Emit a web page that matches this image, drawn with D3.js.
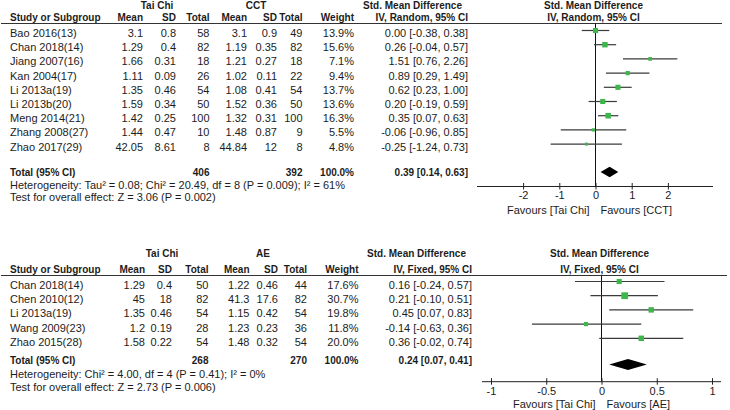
<!DOCTYPE html>
<html><head><meta charset="utf-8">
<script src="https://cdn.jsdelivr.net/npm/d3@7"></script>
<style>
body{margin:0;background:#fff}
svg{display:block}
text{font-family:"Liberation Sans",Arial,sans-serif;fill:#1c1c1c}
</style>
</head><body>
<svg id="c" width="730" height="410"></svg>
<script>
// ---------- Panel 1: Tai Chi vs CCT (random effects) ----------
const studies1 = ["Bao 2016(13)","Chan 2018(14)","Jiang 2007(16)","Kan 2004(17)","Li 2013a(19)","Li 2013b(20)","Meng 2014(21)","Zhang 2008(27)","Zhao 2017(29)"];
const tcMean1 = ["3.1","1.29","1.66","1.11","1.35","1.59","1.42","1.44","42.05"];
const tcSD1 = ["0.8","0.4","0.31","0.09","0.46","0.34","0.25","0.47","8.61"];
const tcN1 = [58,82,18,26,54,50,100,10,8];
const ctMean1 = ["3.1","1.19","1.21","1.02","1.08","1.52","1.32","1.48","44.84"];
const ctSD1 = ["0.9","0.35","0.27","0.11","0.41","0.36","0.31","0.87","12"];
const ctN1 = [49,82,18,22,54,50,100,9,8];
const weight1 = [13.9,15.6,7.1,9.4,13.7,13.6,16.3,5.5,4.8];
const smd1 = [0.00,0.26,1.51,0.89,0.62,0.20,0.35,-0.06,-0.25];
const lo1 = [-0.38,-0.04,0.76,0.29,0.23,-0.19,0.07,-0.96,-1.24];
const hi1 = [0.38,0.57,2.26,1.49,1.00,0.59,0.63,0.85,0.73];
const total1 = {tc:406, ct:392, w:"100.0%", est:0.39, lo:0.14, hi:0.63};
const het1 = "Heterogeneity: Tau\u00b2 = 0.08; Chi\u00b2 = 20.49, df = 8 (P = 0.009); I\u00b2 = 61%";
const test1 = "Test for overall effect: Z = 3.06 (P = 0.002)";
const ticks1 = [-2,-1,0,1,2];
const tickLabels1 = ["-2","-1","0","1","2"];
const groups1 = ["Tai Chi","CCT"];
const method1 = "IV, Random, 95% CI";
const favours1 = ["Favours [Tai Chi]","Favours [CCT]"];

// ---------- Panel 2: Tai Chi vs AE (fixed effect) ----------
const studies2 = ["Chan 2018(14)","Chen 2010(12)","Li 2013a(19)","Wang 2009(23)","Zhao 2015(28)"];
const tcMean2 = ["1.29","45","1.35","1.2","1.58"];
const tcSD2 = ["0.4","18","0.46","0.19","0.22"];
const tcN2 = [50,82,54,28,54];
const aeMean2 = ["1.22","41.3","1.15","1.23","1.48"];
const aeSD2 = ["0.46","17.6","0.42","0.23","0.32"];
const aeN2 = [44,82,54,36,54];
const weight2 = [17.6,30.7,19.8,11.8,20.0];
const smd2 = [0.16,0.21,0.45,-0.14,0.36];
const lo2 = [-0.24,-0.10,0.07,-0.63,-0.02];
const hi2 = [0.57,0.51,0.83,0.36,0.74];
const total2 = {tc:268, ct:270, w:"100.0%", est:0.24, lo:0.07, hi:0.41};
const het2 = "Heterogeneity: Chi\u00b2 = 4.00, df = 4 (P = 0.41); I\u00b2 = 0%";
const test2 = "Test for overall effect: Z = 2.73 (P = 0.006)";
const ticks2 = [-1,-0.5,0,0.5,1];
const tickLabels2 = ["-1","-0.5","0","0.5","1"];
const groups2 = ["Tai Chi","AE"];
const method2 = "IV, Fixed, 95% CI";
const favours2 = ["Favours [Tai Chi]","Favours [AE]"];

const svg = d3.select("#c");
const GREEN = "#3db64b";
const HDR = 10;

function t(g, x, y, s, opt){
  opt = opt || {};
  return g.append("text").attr("x", x).attr("y", y)
    .attr("text-anchor", opt.anchor || "start")
    .attr("font-size", opt.size || 11)
    .attr("font-weight", opt.bold ? "bold" : "normal")
    .text(s);
}
const f2 = v => d3.format(".2f")(v).replace("\u2212", "-");
const ci = (e,l,h) => `${f2(e)} [${f2(l)}, ${f2(h)}]`;

function panel(d, L){
  const g = svg.append("g");
  const n = d.studies.length;
  const textY = i => L.row0 + L.step*i + 4;     // baseline
  const markY = i => L.row0 + L.step*i - L.markOff;

  t(g, L.grpX[0], L.grpBase, d.groups[0], {anchor:"middle", bold:true, size:HDR});
  t(g, L.grpX[1], L.grpBase, d.groups[1], {anchor:"middle", bold:true, size:HDR});
  t(g, L.smdR - 6, L.grpBase, "Std. Mean Difference", {anchor:"end", bold:true, size:HDR});
  t(g, L.zeroX - 2, L.grpBase, "Std. Mean Difference", {anchor:"middle", bold:true, size:HDR});
  t(g, 10, L.hdrBase, "Study or Subgroup", {bold:true, size:HDR});
  const hdrs = ["Mean","SD","Total","Mean","SD","Total","Weight"];
  hdrs.forEach((h,k) => t(g, L.cols[k], L.hdrBase, h, {anchor:"end", bold:true, size:HDR}));
  t(g, L.smdR, L.hdrBase, d.method, {anchor:"end", bold:true, size:HDR});
  t(g, L.zeroX - 2, L.hdrBase, d.method, {anchor:"middle", bold:true, size:HDR});
  g.append("line").attr("x1", 1).attr("x2", L.lineR).attr("y1", L.lineY).attr("y2", L.lineY)
    .attr("stroke", "#333").attr("stroke-width", 1);

  for (let i = 0; i < n; i++){
    const y = textY(i);
    t(g, 10, y, d.studies[i]);
    const vals = [d.m1[i], d.s1[i], d.n1[i], d.m2[i], d.s2[i], d.n2[i], d.w[i].toFixed(1) + "%"];
    vals.forEach((v,k) => t(g, L.cols[k], y, v, {anchor:"end"}));
    t(g, L.smdR, y, ci(d.smd[i], d.lo[i], d.hi[i]), {anchor:"end"});
  }
  t(g, 10, L.totBase, "Total (95% CI)", {bold:true, size:10});
  t(g, L.cols[2], L.totBase, d.total.tc, {anchor:"end", bold:true, size:10});
  t(g, L.cols[5], L.totBase, d.total.ct, {anchor:"end", bold:true, size:10});
  t(g, L.cols[6], L.totBase, d.total.w, {anchor:"end", bold:true, size:10});
  t(g, L.smdR, L.totBase, ci(d.total.est, d.total.lo, d.total.hi), {anchor:"end", bold:true, size:10});
  t(g, 10, L.hetBase, d.het);
  t(g, 10, L.testBase, d.test);

  const x = d3.scaleLinear().domain([d.ticks[0], d.ticks[d.ticks.length-1]]).range(L.range);
  const sz = d3.scaleSqrt().domain([0, 100]).range([0, L.sqK * 10]);
  g.append("line").attr("x1", x(0)).attr("x2", x(0)).attr("y1", L.lineY).attr("y2", L.axisY)
    .attr("stroke", "#111").attr("stroke-width", 1);
  for (let i = 0; i < n; i++){
    const y = markY(i);
    g.append("line").attr("x1", x(d.lo[i])).attr("x2", x(d.hi[i])).attr("y1", y).attr("y2", y)
      .attr("stroke", "#3a3a3a").attr("stroke-width", 1.2);
    const s = sz(d.w[i]);
    g.append("rect").attr("x", x(d.smd[i]) - s/2).attr("y", y - s/2).attr("width", s).attr("height", s)
      .attr("fill", GREEN);
  }
  const cy = L.diaY, h = L.diaH;
  g.append("path")
    .attr("d", `M${x(d.total.lo)},${cy}L${x(d.total.est)},${cy-h}L${x(d.total.hi)},${cy}L${x(d.total.est)},${cy+h}Z`)
    .attr("fill", "#000");
  const ax = d3.axisBottom(x).tickValues(d.ticks).tickFormat((v,k) => d.tickLabels[k])
    .tickSizeInner(3).tickSizeOuter(0).tickPadding(5);
  const ag = g.append("g").attr("transform", `translate(0,${L.axisY})`).call(ax);
  ag.select(".domain").remove();
  ag.selectAll(".tick line").attr("y1", -3.5).attr("y2", 3).attr("stroke", "#222");
  ag.selectAll(".tick text").attr("font-size", 11).attr("font-family", '"Liberation Sans",Arial,sans-serif')
    .attr("fill", "#1c1c1c").attr("y", L.tickLabBase - L.axisY).attr("dy", null);
  g.append("line").attr("x1", L.axisL).attr("x2", L.axisR).attr("y1", L.axisY).attr("y2", L.axisY)
    .attr("stroke", "#222").attr("stroke-width", 1);
  t(g, x(0) - 6, L.favBase, d.favours[0], {anchor:"end"});
  t(g, x(0) + 5, L.favBase, d.favours[1]);
}

panel({studies:studies1, m1:tcMean1, s1:tcSD1, n1:tcN1, m2:ctMean1, s2:ctSD1, n2:ctN1, w:weight1,
       smd:smd1, lo:lo1, hi:hi1, total:total1, het:het1, test:test1, ticks:ticks1, tickLabels:tickLabels1,
       groups:groups1, method:method1, favours:favours1},
      {grpBase:8.5, hdrBase:20.8, lineY:23.5, grpX:[157,256],
       cols:[143,176,209.5,247,277,302.5,354], smdR:468, lineR:722, zeroX:595.5,
       row0:33, step:14.2, markOff:2.5,
       totBase:176.3, hetBase:189, testBase:200.5,
       range:[523.1,667.9], sqK:1.38, diaY:172, diaH:5.3,
       axisY:186.5, axisL:477, axisR:713, tickLabBase:199, favBase:214});

panel({studies:studies2, m1:tcMean2, s1:tcSD2, n1:tcN2, m2:aeMean2, s2:aeSD2, n2:aeN2, w:weight2,
       smd:smd2, lo:lo2, hi:hi2, total:total2, het:het2, test:test2, ticks:ticks2, tickLabels:tickLabels2,
       groups:groups2, method:method2, favours:favours2},
      {grpBase:256.5, hdrBase:272.5, lineY:275.5, grpX:[162,263],
       cols:[145,172,208.5,249.5,278,307,358.5], smdR:472, lineR:727, zeroX:601.5,
       row0:285, step:14.2, markOff:3.5,
       totBase:364, hetBase:377.5, testBase:391,
       range:[491,712], sqK:1.22, diaY:364.5, diaH:5.5,
       axisY:381.7, axisL:482, axisR:721, tickLabBase:395, favBase:407.5});
</script>
</body></html>
